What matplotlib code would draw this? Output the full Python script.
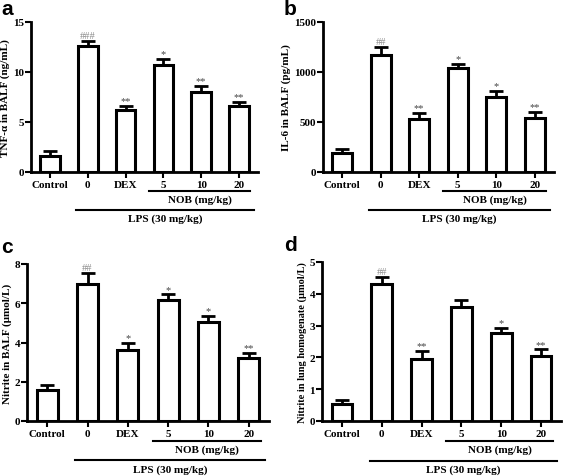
import matplotlib
matplotlib.use("Agg")
import matplotlib.pyplot as plt
import numpy as np

plt.rcParams['font.family'] = ['Liberation Serif', 'DejaVu Serif']
plt.rcParams['font.weight'] = 'bold'

categories = ["Control", "0", "DEX", "5", "10", "20"]

tnf_mean = [1.6, 12.6, 6.2, 10.7, 8.0, 6.6]
tnf_err = [0.5, 0.5, 0.4, 0.6, 0.6, 0.4]
tnf_marks = ["", "###", "**", "*", "**", "**"]

il6_mean = [190, 1175, 530, 1040, 755, 545]
il6_err = [40, 75, 60, 40, 55, 55]
il6_marks = ["", "##", "**", "*", "*", "**"]

nit_balf_mean = [1.6, 7.0, 3.6, 6.15, 5.05, 3.2]
nit_balf_err = [0.25, 0.55, 0.4, 0.3, 0.3, 0.25]
nit_balf_marks = ["", "##", "*", "*", "*", "**"]

nit_lung_mean = [0.55, 4.3, 1.95, 3.6, 2.78, 2.05]
nit_lung_err = [0.1, 0.22, 0.25, 0.22, 0.15, 0.2]
nit_lung_marks = ["", "##", "**", "", "*", "**"]

W, H = 567, 477
fig = plt.figure(figsize=(W/100, H/100), dpi=100)

def px_axes(x0, x1, ytop, ybot):
    return fig.add_axes([x0/W, 1 - ybot/H, (x1-x0)/W, (ybot-ytop)/H])

def panel(ax, means, errs, marks, ymax, yticks, ylabel, letter, letter_xy, ylfs=8):
    x = np.arange(len(categories))
    ax.bar(x, means, width=0.52, color='white', edgecolor='black', linewidth=2.2, zorder=2)
    ax.errorbar(x, means, yerr=[np.zeros(len(errs)), errs], fmt='none', ecolor='black',
                elinewidth=2, capsize=5, capthick=2, zorder=1)
    for xi, m, e, s in zip(x, means, errs, marks):
        if s:
            col = '#8a8a8a' if '#' in s else '#444444'
            ax.text(xi, m + e + ymax*0.005, s, ha='center', va='bottom', fontsize=7.5,
                    color=col, fontweight='normal')
    ax.set_xlim(-0.5, 5.5)
    ax.set_ylim(0, ymax)
    ax.set_yticks(yticks)
    ax.set_xticks(x)
    ax.set_xticklabels(categories, fontsize=8, fontweight='bold')
    ax.tick_params(axis='y', labelsize=8, width=1.5, length=4, pad=1)
    ax.tick_params(axis='x', width=1.5, length=4, pad=2)
    for lab in ax.get_yticklabels():
        lab.set_fontweight('bold')
    ax.spines['top'].set_visible(False)
    ax.spines['right'].set_visible(False)
    ax.spines['left'].set_linewidth(2)
    ax.spines['bottom'].set_linewidth(2)
    ax.set_ylabel(ylabel, fontsize=ylfs, fontweight='bold', labelpad=2)
    tr = ax.get_xaxis_transform()
    ax.plot([2.62, 5.3], [-0.125, -0.125], color='black', lw=1.5, transform=tr, clip_on=False)
    ax.text(3.96, -0.15, "NOB (mg/kg)", transform=tr, ha='center', va='top', fontsize=8,
            fontweight='bold')
    ax.plot([0.7, 5.4], [-0.25, -0.25], color='black', lw=1.5, transform=tr, clip_on=False)
    ax.text(3.05, -0.275, "LPS (30 mg/kg)", transform=tr, ha='center', va='top', fontsize=8,
            fontweight='bold')
    fig.text(letter_xy[0]/W, 1 - letter_xy[1]/H, letter, fontsize=15, fontweight='bold',
             family='Liberation Sans', va='top', ha='left')

ax_a = px_axes(31, 258, 23, 173)
panel(ax_a, tnf_mean, tnf_err, tnf_marks, 15, [0, 5, 10, 15], "TNF-α in BALF (ng/mL)", "a", (1, 0))
ax_b = px_axes(323, 554, 23, 173)
panel(ax_b, il6_mean, il6_err, il6_marks, 1500, [0, 500, 1000, 1500], "IL-6 in BALF (pg/mL)", "b", (284, 0))
ax_c = px_axes(27, 269, 265, 422)
panel(ax_c, nit_balf_mean, nit_balf_err, nit_balf_marks, 8, [0, 2, 4, 6, 8], "Nitrite in BALF (μmol/L)", "c", (1, 238))
ax_d = px_axes(322, 561, 263, 422)
panel(ax_d, nit_lung_mean, nit_lung_err, nit_lung_marks, 5, [0, 1, 2, 3, 4, 5], "Nitrite in lung homogenate (μmol/L)", "d", (284, 236), ylfs=7.5)

fig.savefig("out.png", dpi=100, facecolor='white')
